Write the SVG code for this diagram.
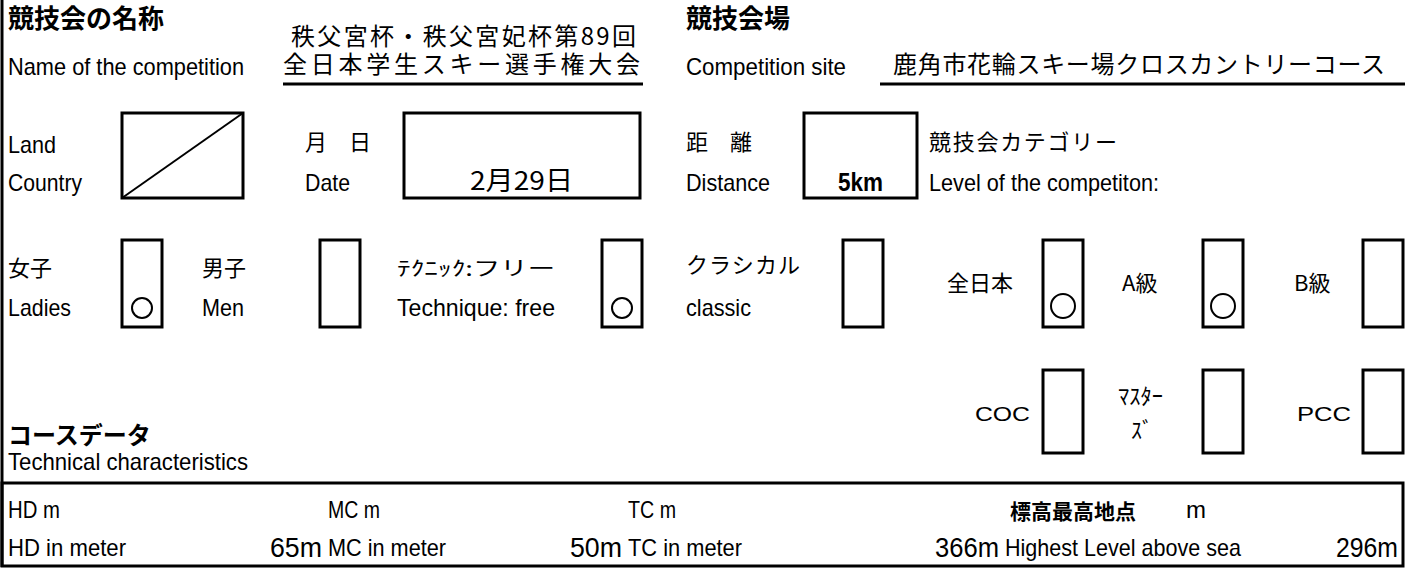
<svg xmlns="http://www.w3.org/2000/svg" width="1414" height="569" viewBox="0 0 1414 569">
<style>
.en{font-family:"Liberation Sans Narrow","Liberation Sans",Arial,sans-serif;font-size:24px;fill:#000}
.num{font-family:"Liberation Sans Narrow","Liberation Sans",Arial,sans-serif;font-size:27px;fill:#000}
.jp{font-family:"Noto Sans CJK JP","Noto Sans CJK SC",sans-serif;font-size:22px;fill:#000}
.jb{font-family:"Noto Sans CJK JP","Noto Sans CJK SC",sans-serif;font-size:26px;font-weight:bold;fill:#000}
.lat{font-family:"Liberation Sans",Arial,sans-serif;font-size:21px;fill:#000}
.box{fill:none;stroke:#000;stroke-width:3}
.ln{stroke:#000;stroke-width:3;fill:none}
.mark{fill:none;stroke:#000;stroke-width:2}
</style>
<rect x="0" y="0" width="1414" height="569" fill="#fff"/>
<line class="ln" x1="2" y1="0" x2="2" y2="567"/>

<g id="name">
<text class="jb" x="8" y="28">競技会の名称</text>
<text class="en" x="8" y="75" textLength="236" lengthAdjust="spacingAndGlyphs">Name of the competition</text>
<text class="jp" x="291" y="45" style="font-size:24px" textLength="345">秩父宮杯・秩父宮妃杯第89回</text>
<text class="jp" x="283" y="73" style="font-size:24px" textLength="357">全日本学生スキー選手権大会</text>
<line class="ln" x1="283" y1="84" x2="643" y2="84"/>
</g>

<g id="site">
<text class="jb" x="686" y="28">競技会場</text>
<text class="en" x="686" y="75" textLength="160" lengthAdjust="spacingAndGlyphs">Competition site</text>
<text class="jp" x="893" y="73" style="font-size:24px" textLength="492">鹿角市花輪スキー場クロスカントリーコース</text>
<line class="ln" x1="880" y1="84" x2="1405" y2="84"/>
</g>

<g id="country">
<text class="en" x="8" y="153" textLength="48" lengthAdjust="spacingAndGlyphs">Land</text>
<text class="en" x="8" y="191" textLength="74" lengthAdjust="spacingAndGlyphs">Country</text>
<rect class="box" x="122" y="113" width="121" height="85"/>
<line class="mark" x1="122" y1="198" x2="243" y2="113"/>
</g>

<g id="date">
<text class="jp" x="305" y="150">月　日</text>
<text class="en" x="305" y="191" textLength="45" lengthAdjust="spacingAndGlyphs">Date</text>
<rect class="box" x="404" y="113" width="236" height="85"/>
<text class="jp" x="470" y="190" style="font-size:26px" textLength="103" lengthAdjust="spacingAndGlyphs">2月29日</text>
</g>

<g id="distance">
<text class="jp" x="686" y="150">距　離</text>
<text class="en" x="686" y="191" textLength="84" lengthAdjust="spacingAndGlyphs">Distance</text>
<rect class="box" x="804" y="113" width="113" height="85"/>
<text class="en" x="838" y="191" style="font-size:25px;font-weight:bold" textLength="45" lengthAdjust="spacingAndGlyphs">5km</text>
</g>

<g id="category">
<text class="jp" x="929" y="150" textLength="188">競技会カテゴリー</text>
<text class="en" x="929" y="191" textLength="230" lengthAdjust="spacingAndGlyphs">Level of the competiton:</text>
</g>

<g id="ladies">
<text class="jp" x="8" y="276">女子</text>
<text class="en" x="8" y="316" textLength="63" lengthAdjust="spacingAndGlyphs">Ladies</text>
<rect class="box" x="122" y="240" width="40" height="87"/>
<circle class="mark" cx="142" cy="308" r="10"/>
</g>

<g id="men">
<text class="jp" x="202" y="276">男子</text>
<text class="en" x="202" y="316" textLength="42" lengthAdjust="spacingAndGlyphs">Men</text>
<rect class="box" x="320" y="240" width="40" height="87"/>
</g>

<g id="free">
<text class="jp" x="397" y="276" style="font-size:20px" textLength="158" lengthAdjust="spacingAndGlyphs">ﾃｸﾆｯｸ:フリー</text>
<text class="en" x="397" y="316" textLength="158" lengthAdjust="spacingAndGlyphs">Technique: free</text>
<rect class="box" x="602" y="240" width="40" height="87"/>
<circle class="mark" cx="622" cy="308" r="10"/>
</g>

<g id="classic">
<text class="jp" x="686" y="273" textLength="114">クラシカル</text>
<text class="en" x="686" y="316" textLength="65" lengthAdjust="spacingAndGlyphs">classic</text>
<rect class="box" x="843" y="240" width="40" height="87"/>
</g>

<g id="zennihon">
<text class="jp" x="947" y="291">全日本</text>
<rect class="box" x="1043" y="240" width="40" height="87"/>
<circle class="mark" cx="1063" cy="306" r="12"/>
</g>

<g id="a-class">
<text class="jp" x="1122" y="291">A級</text>
<rect class="box" x="1203" y="240" width="40" height="87"/>
<circle class="mark" cx="1223" cy="306" r="12"/>
</g>

<g id="b-class">
<text class="jp" x="1294" y="291">B級</text>
<rect class="box" x="1363" y="240" width="40" height="87"/>
</g>

<g id="coc">
<text class="lat" x="975" y="421" textLength="55" lengthAdjust="spacingAndGlyphs">COC</text>
<rect class="box" x="1043" y="370" width="40" height="83"/>
</g>

<g id="masters">
<text class="jp" x="1118" y="404" style="font-size:22px" textLength="45" lengthAdjust="spacingAndGlyphs">ﾏｽﾀｰ</text>
<text class="jp" x="1131" y="438" style="font-size:22px">ｽﾞ</text>
<rect class="box" x="1203" y="370" width="40" height="83"/>
</g>

<g id="pcc">
<text class="lat" x="1297" y="421" textLength="54" lengthAdjust="spacingAndGlyphs">PCC</text>
<rect class="box" x="1363" y="370" width="40" height="83"/>
</g>

<g id="course-data">
<text class="jb" x="8" y="444" style="font-size:24px">コースデータ</text>
<text class="en" x="8" y="470" textLength="240" lengthAdjust="spacingAndGlyphs">Technical characteristics</text>
<rect class="box" x="2" y="483" width="1401" height="83"/>
<text class="en" x="8" y="518" textLength="52" lengthAdjust="spacingAndGlyphs">HD m</text>
<text class="en" x="328" y="518" textLength="52" lengthAdjust="spacingAndGlyphs">MC m</text>
<text class="en" x="628" y="518" textLength="48" lengthAdjust="spacingAndGlyphs">TC m</text>
<text class="jp" x="1010" y="519" style="font-size:21px;font-weight:bold">標高最高地点<tspan class="en" x="1186" y="518" style="font-weight:normal">m</tspan></text>
<text class="en" x="8" y="556" textLength="118" lengthAdjust="spacingAndGlyphs">HD in meter</text>
<text class="num" x="322" y="557" text-anchor="end" textLength="52" lengthAdjust="spacingAndGlyphs">65m</text>
<text class="en" x="328" y="556" textLength="118" lengthAdjust="spacingAndGlyphs">MC in meter</text>
<text class="num" x="622" y="557" text-anchor="end" textLength="52" lengthAdjust="spacingAndGlyphs">50m</text>
<text class="en" x="628" y="556" textLength="114" lengthAdjust="spacingAndGlyphs">TC in meter</text>
<text class="num" x="999" y="557" text-anchor="end" textLength="64" lengthAdjust="spacingAndGlyphs">366m</text>
<text class="en" x="1005" y="556" textLength="236" lengthAdjust="spacingAndGlyphs">Highest Level above sea</text>
<text class="num" x="1398" y="557" text-anchor="end" textLength="62" lengthAdjust="spacingAndGlyphs">296m</text>
</g>
</svg>
